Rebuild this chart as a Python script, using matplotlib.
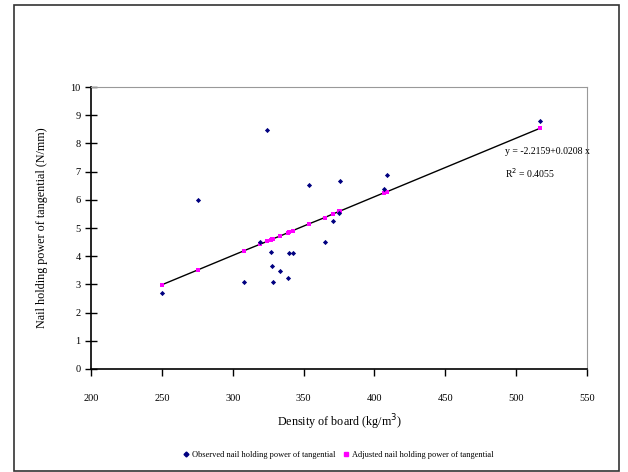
import matplotlib
matplotlib.use("Agg")
import matplotlib.pyplot as plt
from matplotlib.patches import Rectangle
from matplotlib.lines import Line2D

plt.rcParams["font.family"] = ["Liberation Serif", "DejaVu Serif"]

# density of board (kg/m3)
density = [250.2, 275.2, 308.3, 319.6, 324.5, 327.1, 327.8, 328.5, 333.7, 339.2,
           339.9, 342.5, 353.5, 364.9, 370.8, 375.2, 375.7, 406.8, 409.0, 516.5]
# observed nail holding power (N/mm)
observed = [2.70, 6.00, 3.09, 4.50, 8.49, 4.16, 3.64, 3.08, 3.49, 3.23,
            4.11, 4.12, 6.52, 4.49, 5.24, 5.54, 6.65, 6.39, 6.88, 8.80]
# adjusted (fitted) nail holding power (N/mm)
adjusted = [2.99, 3.51, 4.20, 4.43, 4.53, 4.59, 4.60, 4.62, 4.72, 4.84,
            4.85, 4.91, 5.14, 5.37, 5.50, 5.59, 5.60, 6.25, 6.29, 8.53]

fit_text = "y = -2.2159+0.0208 x"
r2_text = "R$^{2}$ = 0.4055"

fig = plt.figure(figsize=(6.28, 4.72), dpi=100)
W, H = 628, 472
ax = fig.add_axes([91 / W, 1 - 369 / H, (587 - 91) / W, (369 - 87) / H])

# outer chart frame
fig.patches.append(Rectangle((14 / W, 1 / H), (619 - 14) / W, (467 - 1) / H,
                             transform=fig.transFigure, fill=False,
                             edgecolor="#333333", linewidth=1.2))

ax.plot(density, adjusted, color="black", linewidth=1.0, zorder=2)
ax.scatter(density, adjusted, marker="s", s=9, color="#ff00ff", zorder=3,
           linewidths=0)
ax.scatter(density, observed, marker="D", s=7, color="#000080", zorder=4,
           linewidths=0)

ax.set_xlim(200, 550)
ax.set_ylim(0, 10)
ax.set_xticks(range(200, 551, 50))
ax.set_yticks(range(0, 11))

for s in ["left", "bottom"]:
    ax.spines[s].set_color("black")
    ax.spines[s].set_linewidth(1.2)
for s in ["top", "right"]:
    ax.spines[s].set_color("#999999")
    ax.spines[s].set_linewidth(0.8)

ax.tick_params(axis="y", direction="inout", length=9, width=1.0,
               labelsize=7.5, pad=3)
ax.tick_params(axis="x", direction="out", length=5, width=1.0,
               labelsize=7.5, pad=13)

ax.set_ylabel("Nail holding power of tangential (N/mm)", fontsize=8.7, labelpad=16)
ax.set_xlabel("Density of board (kg/m$^{3}$)", fontsize=8.7, labelpad=7)

ax.text(492, 7.73, fit_text, fontsize=7, ha="left", va="center")
ax.text(492, 6.95, r2_text, fontsize=7, ha="left", va="center")

handles = [
    Line2D([], [], marker="D", color="#000080", linestyle="none", markersize=2.5),
    Line2D([], [], marker="s", color="#ff00ff", linestyle="none", markersize=3),
]
fig.legend(handles, ["Observed nail holding power of tangential",
                     "Adjusted nail holding power of tangential"],
           loc="center", bbox_to_anchor=(338 / W, 1 - 455 / H), ncol=2,
           frameon=False, fontsize=6, handletextpad=0.2, columnspacing=0.8,
           handlelength=1.0)

fig.savefig("out.png", dpi=100)
